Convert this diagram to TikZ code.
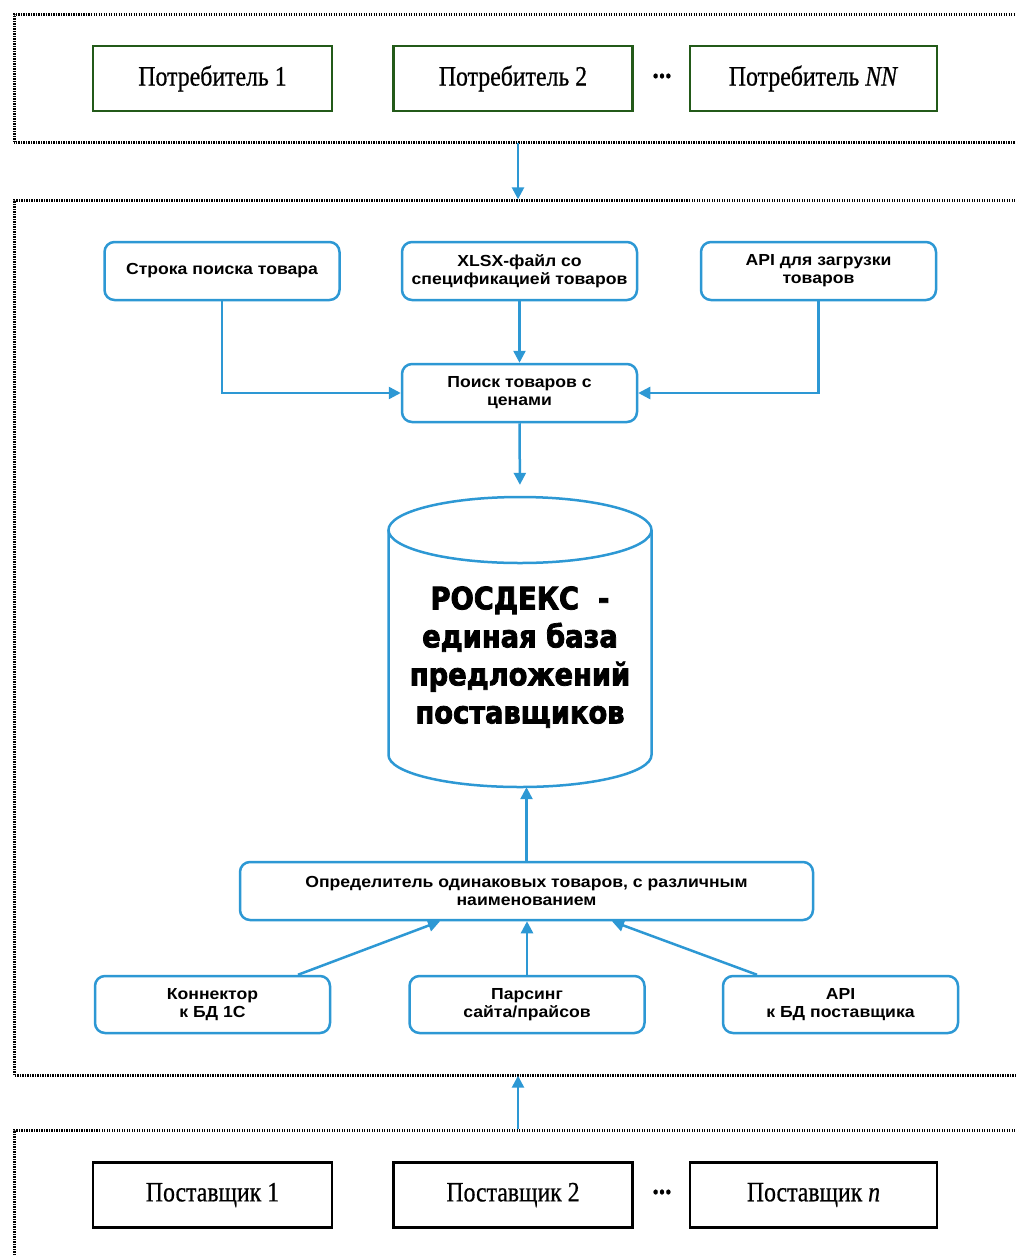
\documentclass[tikz,border=0pt]{standalone}
\usepackage{fontspec}
\setmainfont{Liberation Serif}
\newfontfamily\serifc{Liberation Serif}[FakeStretch=0.85,FakeBold=0.6]
\newfontfamily\sansw{Liberation Sans}[FakeStretch=1.1]
\newfontfamily\heavy{DejaVu Sans}[FakeStretch=0.88,FakeBold=2.5]
\usetikzlibrary{arrows.meta}
\definecolor{bl}{RGB}{45,152,212}
\definecolor{gr}{RGB}{35,90,25}
\tikzset{
  x=1pt,y=1pt,
  group/.style={draw=black,line width=3pt,dash pattern=on 1.4pt off 1.1pt},
  consumer/.style={draw=gr,line width=2.5pt,minimum width=239pt,minimum height=65pt,inner sep=0pt,font=\serifc\fontsize{28}{30}\selectfont},
  supplier/.style={draw=black,line width=2.5pt,minimum width=239pt,minimum height=65pt,inner sep=0pt,font=\serifc\fontsize{28}{30}\selectfont},
  ibox/.style={draw=bl,line width=2.5pt,rounded corners=10pt,minimum width=235pt,minimum height=58pt,inner sep=0pt,align=center,font=\sansw\bfseries\fontsize{16}{18}\selectfont},
  arr/.style={draw=bl,line width=2.5pt,-{Triangle[length=12pt,width=12pt]}},
  dots/.style={font=\serifc\bfseries\fontsize{30}{30}\selectfont}
}
\begin{document}
\begin{tikzpicture}
\useasboundingbox (0,0) rectangle (1016,-1256);
\clip (0,0) rectangle (1016,-1256);
\fill[white] (0,0) rectangle (1016,-1256);
% group boxes
\draw[group] (14,-142) -- (14,-14) -- (1030,-14) -- (1030,-142) -- cycle;
\node[minimum width=0pt,inner sep=0pt] (gtop) at (518,-142) {};
\draw[group] (14,-1075) -- (14,-200) -- (1030,-200) -- (1030,-1075) -- cycle;
\node[inner sep=0pt] (gmidT) at (518,-200) {};
\node[inner sep=0pt] (gmidB) at (518,-1075) {};
\draw[group] (14,-1270) -- (14,-1130) -- (1030,-1130) -- (1030,-1270);
\node[inner sep=0pt] (gbot) at (518,-1130) {};
% consumers
\node[consumer] (c1) at (212.5,-78.5) {Потребитель 1};
\node[consumer] (c2) at (513,-78.5) {Потребитель 2};
\node[dots] (cd) at (662,-76) {...};
\node[consumer, minimum width=247pt] (c3) at (813.5,-78.5) {Потребитель \textit{NN}};
% suppliers
\node[supplier] (s1) at (212.5,-1195) {Поставщик 1};
\node[supplier] (s2) at (513,-1195) {Поставщик 2};
\node[dots] (sd) at (662,-1192) {...};
\node[supplier, minimum width=247pt] (s3) at (813.5,-1195) {Поставщик \textit{n}};
% inner top
\node[ibox] (q1) at (222,-271) {Строка поиска товара};
\node[ibox] (q2) at (519.5,-271) {XLSX-файл со\\спецификацией товаров};
\node[ibox] (q3) at (818.5,-271) {API для загрузки\\товаров};
\node[ibox] (srch) at (519.5,-393) {Поиск товаров с\\ценами};
% database
\node[minimum width=263pt,minimum height=290pt,inner sep=0pt] (db) at (520,-642) {};
\draw[bl,line width=2.5pt] (388.5,-530) -- (388.5,-755) arc[start angle=180,end angle=360,x radius=131.5,y radius=32] -- (651.5,-530);
\draw[bl,line width=2.5pt] (520,-530) ellipse[x radius=131.5,y radius=33];
\node[align=center,font=\heavy\bfseries\fontsize{31}{38}\selectfont] (dbt) at (520,-657) {РОСДЕКС~~-\\единая база\\предложений\\поставщиков};
% inner bottom
\node[ibox,minimum width=573pt] (det) at (526.5,-891) {Определитель одинаковых товаров, с различным\\наименованием};
\node[ibox,minimum height=57pt] (b1) at (212.5,-1004.5) {Коннектор\\к БД 1С};
\node[ibox,minimum height=57pt] (b2) at (527,-1004.5) {Парсинг\\сайта/прайсов};
\node[ibox,minimum height=57pt] (b3) at (840.5,-1004.5) {API\\к БД поставщика};
% connectors
\draw[arr] (gtop) -- (gmidT);
\draw[arr] (gbot) -- (gmidB);
\draw[arr] (q1.south) |- (srch.west);
\draw[arr] (q2.south) -- (srch.north);
\draw[arr] (q3.south) |- (srch.east);
\draw[arr,shorten >=12pt] (srch.south) -- (db.north);
\draw[arr] (det.north) -- (det.north |- db.south);
\draw[arr] ([xshift=85.5pt]b1.north) -- ([xshift=-86.5pt]det.south);
\draw[arr] (b2.north) -- (b2.north |- det.south);
\draw[arr] ([xshift=-83.5pt]b3.north) -- ([xshift=85.5pt]det.south);
\end{tikzpicture}
\end{document}
